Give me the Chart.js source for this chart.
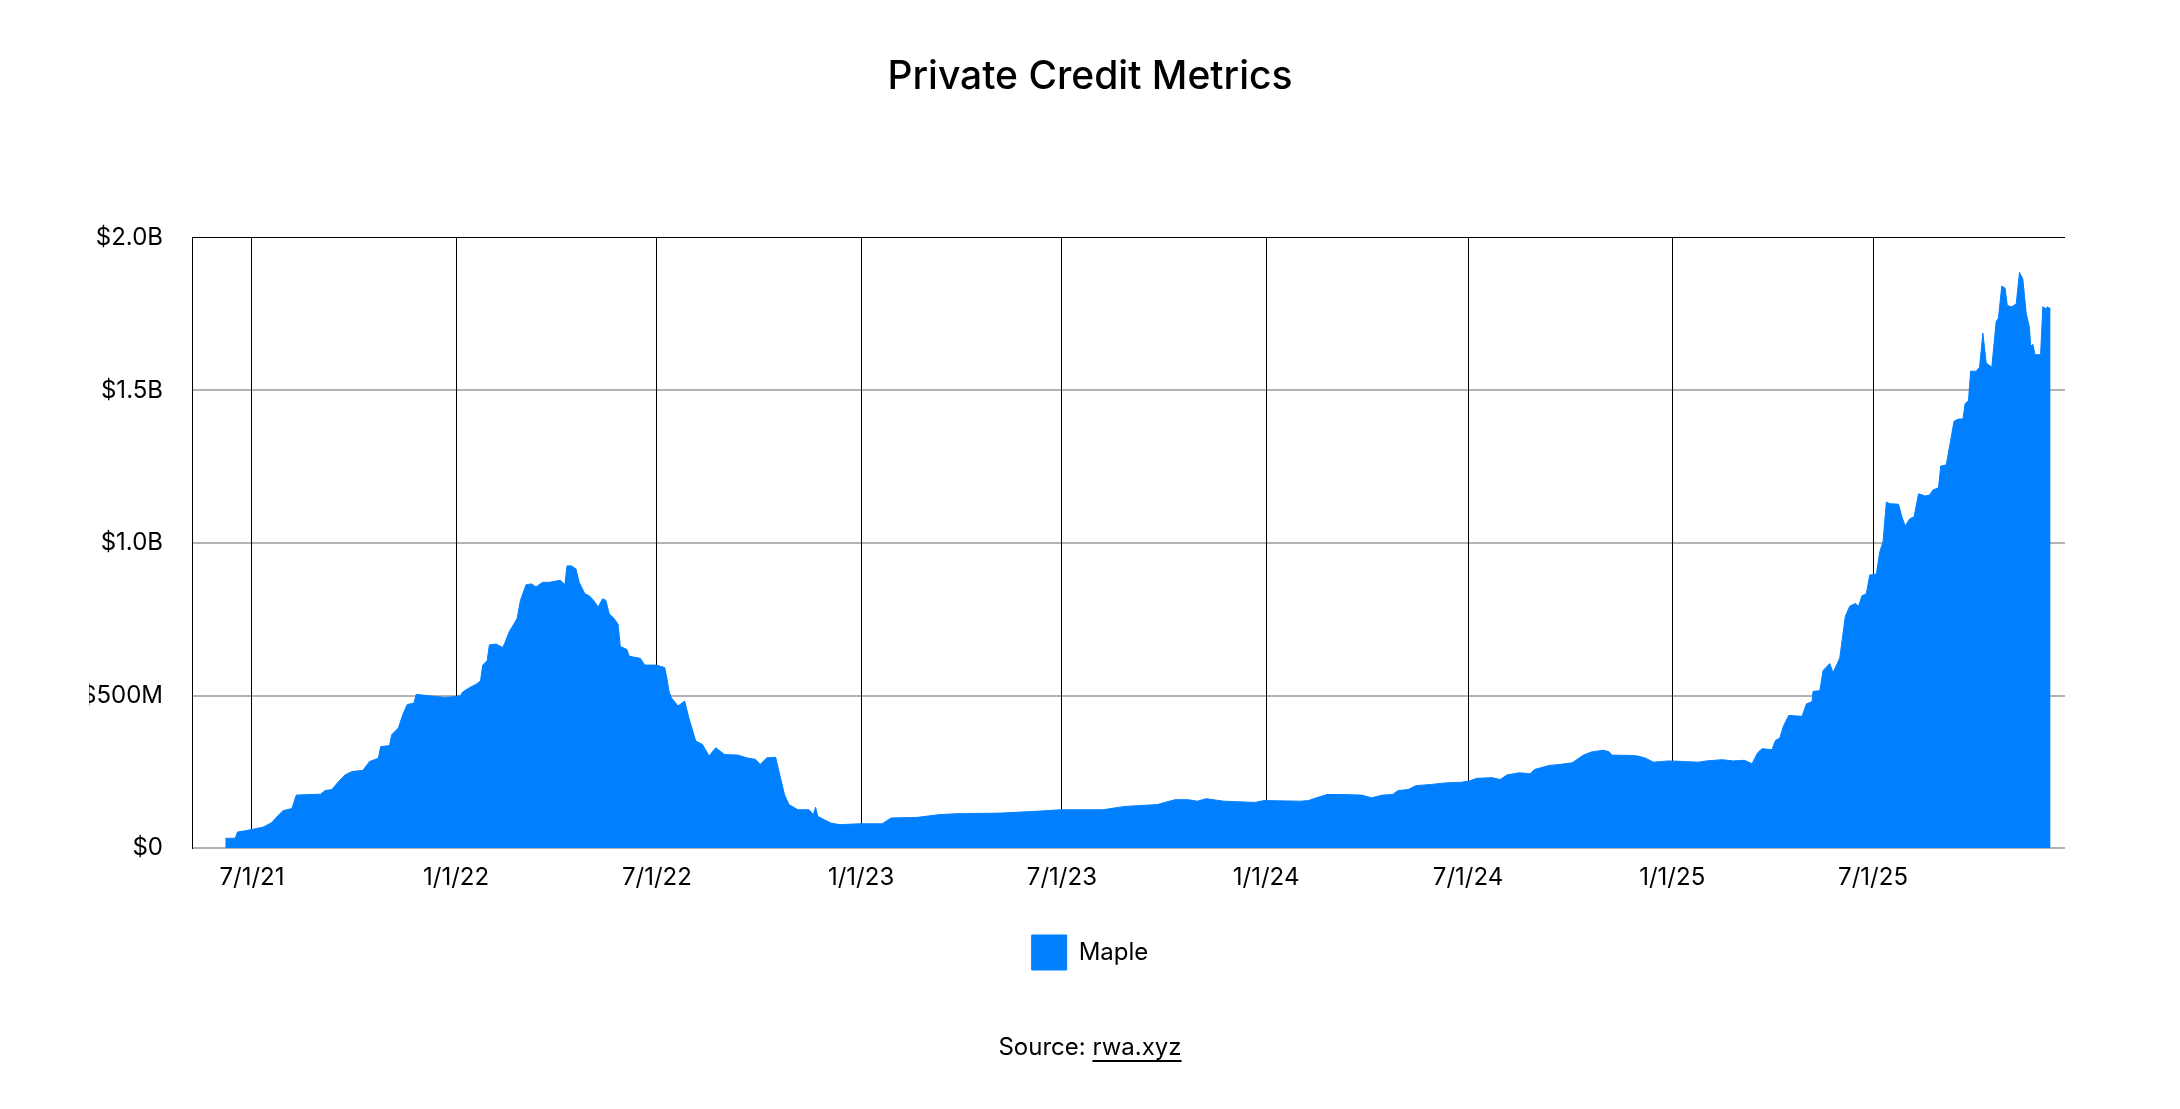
<!DOCTYPE html>
<html>
<head>
<meta charset="utf-8">
<script src="https://cdn.jsdelivr.net/npm/chart.js@4.4.1/dist/chart.umd.min.js"></script>
<style>
  body { margin: 0; background: #fff; font-family: Inter, sans-serif; }
  #chart { display: block; }
  #source { position: absolute; left: 0; top: 1032px; width: 2180px; text-align: center;
            font: 24px/29px Inter, sans-serif; color: #000; }
  #source u { text-underline-offset: 5px; text-decoration-thickness: 1.5px; }
</style>
</head>
<body>
<canvas id="chart" width="2180" height="1109"></canvas>
<div id="source">Source: <u>rwa.xyz</u></div>
<script>
  // Maple private credit outstanding, $M
  const dates = [
    "2021-06-07", "2021-06-16", "2021-06-18", "2021-06-25", "2021-07-11", "2021-07-19", "2021-07-23", "2021-07-29",
    "2021-08-06", "2021-08-10", "2021-09-01", "2021-09-05", "2021-09-11", "2021-09-17", "2021-09-23", "2021-09-29",
    "2021-10-09", "2021-10-15", "2021-10-23", "2021-10-25", "2021-11-02", "2021-11-04", "2021-11-10", "2021-11-14",
    "2021-11-18", "2021-11-24", "2021-11-26", "2021-12-06", "2021-12-22", "2022-01-01", "2022-01-05", "2022-01-07",
    "2022-01-13", "2022-01-19", "2022-01-23", "2022-01-25", "2022-01-29", "2022-01-31", "2022-02-06", "2022-02-12",
    "2022-02-14", "2022-02-18", "2022-02-22", "2022-02-25", "2022-02-28", "2022-03-05", "2022-03-10", "2022-03-14",
    "2022-03-20", "2022-03-26", "2022-04-05", "2022-04-09", "2022-04-11", "2022-04-15", "2022-04-19", "2022-04-22",
    "2022-04-27", "2022-05-01", "2022-05-05", "2022-05-09", "2022-05-13", "2022-05-16", "2022-05-19", "2022-05-23",
    "2022-05-27", "2022-05-29", "2022-06-04", "2022-06-06", "2022-06-16", "2022-06-20", "2022-06-30", "2022-07-08",
    "2022-07-10", "2022-07-12", "2022-07-14", "2022-07-20", "2022-07-26", "2022-07-30", "2022-08-05", "2022-08-11",
    "2022-08-17", "2022-08-23", "2022-08-31", "2022-09-12", "2022-09-20", "2022-09-28", "2022-10-02", "2022-10-08",
    "2022-10-16", "2022-10-20", "2022-10-24", "2022-10-28", "2022-11-05", "2022-11-15", "2022-11-19", "2022-11-21",
    "2022-11-23", "2022-11-29", "2022-12-05", "2022-12-13", "2022-12-30", "2023-01-20", "2023-01-28", "2023-02-21",
    "2023-03-12", "2023-03-28", "2023-05-07", "2023-06-08", "2023-06-30", "2023-08-07", "2023-08-27", "2023-09-25",
    "2023-10-11", "2023-10-23", "2023-10-31", "2023-11-08", "2023-11-24", "2023-12-22", "2023-12-30", "2024-02-01",
    "2024-02-08", "2024-02-17", "2024-02-25", "2024-03-07", "2024-03-27", "2024-04-05", "2024-04-15", "2024-04-24",
    "2024-04-29", "2024-05-08", "2024-05-15", "2024-05-29", "2024-06-11", "2024-06-25", "2024-07-02", "2024-07-09",
    "2024-07-23", "2024-07-30", "2024-08-05", "2024-08-16", "2024-08-26", "2024-08-30", "2024-09-12", "2024-09-23",
    "2024-10-03", "2024-10-13", "2024-10-20", "2024-10-31", "2024-11-05", "2024-11-08", "2024-11-24", "2024-12-01",
    "2024-12-08", "2024-12-15", "2024-12-29", "2025-01-11", "2025-01-25", "2025-02-01", "2025-02-15", "2025-02-25",
    "2025-03-07", "2025-03-14", "2025-03-19", "2025-03-23", "2025-04-01", "2025-04-04", "2025-04-08", "2025-04-11",
    "2025-04-16", "2025-04-28", "2025-05-02", "2025-05-07", "2025-05-08", "2025-05-14", "2025-05-17", "2025-05-23",
    "2025-05-26", "2025-06-01", "2025-06-06", "2025-06-10", "2025-06-15", "2025-06-18", "2025-06-21", "2025-06-25",
    "2025-06-28", "2025-07-04", "2025-07-07", "2025-07-10", "2025-07-13", "2025-07-16", "2025-07-24", "2025-07-27",
    "2025-07-30", "2025-08-03", "2025-08-07", "2025-08-11", "2025-08-17", "2025-08-21", "2025-08-24", "2025-08-29",
    "2025-08-31", "2025-09-05", "2025-09-08", "2025-09-12", "2025-09-16", "2025-09-20", "2025-09-22", "2025-09-25",
    "2025-09-27", "2025-10-02", "2025-10-05", "2025-10-08", "2025-10-11", "2025-10-16", "2025-10-20", "2025-10-22",
    "2025-10-25", "2025-10-28", "2025-10-30", "2025-11-03", "2025-11-07", "2025-11-10", "2025-11-13", "2025-11-16",
    "2025-11-19", "2025-11-20", "2025-11-22", "2025-11-24", "2025-11-29", "2025-12-01", "2025-12-04", "2025-12-05",
    "2025-12-08"
  ];
  const maple = [
    32, 33, 53, 57, 69, 84, 101, 123,
    130, 174, 177, 189, 192, 218, 240, 251,
    255, 284, 295, 333, 336, 372, 394, 438,
    471, 475, 504, 500, 494, 497, 500, 512,
    526, 537, 548, 600, 614, 666, 669, 658,
    673, 710, 734, 753, 812, 863, 866, 856,
    871, 871, 878, 863, 925, 925, 915, 871,
    834, 827, 812, 790, 817, 812, 768, 754,
    734, 661, 651, 629, 622, 600, 600, 592,
    556, 512, 493, 466, 482, 424, 351, 340,
    302, 329, 307, 305, 296, 291, 274, 296,
    298, 236, 175, 143, 126, 126, 110, 134,
    104, 93, 82, 77, 80, 80, 99, 101,
    110, 113, 115, 121, 126, 126, 137, 143,
    159, 159, 154, 162, 154, 150, 156, 154,
    156, 167, 176, 176, 174, 165, 174, 176,
    189, 192, 205, 209, 214, 216, 220, 229,
    231, 225, 240, 247, 244, 258, 271, 275,
    280, 305, 315, 321, 316, 305, 304, 302,
    295, 282, 286, 284, 282, 286, 290, 286,
    288, 277, 313, 326, 323, 353, 361, 398,
    435, 432, 473, 480, 514, 516, 582, 605,
    575, 623, 759, 793, 802, 793, 827, 834,
    895, 898, 970, 1004, 1134, 1129, 1127, 1086,
    1056, 1079, 1086, 1161, 1154, 1157, 1174, 1181,
    1252, 1256, 1317, 1399, 1406, 1406, 1456, 1467,
    1563, 1563, 1576, 1688, 1590, 1576, 1726, 1737,
    1842, 1835, 1778, 1774, 1783, 1887, 1865, 1753,
    1706, 1644, 1651, 1617, 1617, 1774, 1767, 1774,
    1767
  ];
  const tickDates = ["2021-07-01", "2022-01-01", "2022-07-01", "2023-01-01", "2023-07-01",
                     "2024-01-01", "2024-07-01", "2025-01-01", "2025-07-01"];
  const xMin = "2021-05-08";
  const xMax = "2025-12-21";
  const yTicks = [0, 500, 1000, 1500, 2000];

  const DAY = 86400000;
  const toDay = s => Date.parse(s) / DAY;

  function fmtDate(v) {
    const d = new Date(v * DAY);
    return (d.getUTCMonth() + 1) + "/" + d.getUTCDate() + "/" + String(d.getUTCFullYear() % 100).padStart(2, "0");
  }
  function fmtMoney(v) {
    if (v === 0) return "$0";
    if (v < 1000) return "$" + v + "M";
    return "$" + (v / 1000).toFixed(1) + "B";
  }

  Chart.defaults.font.family = "Inter";
  Chart.defaults.color = "#000";

  new Chart(document.getElementById("chart"), {
    type: "line",
    data: {
      datasets: [{
        label: "Maple",
        data: dates.map((d, i) => ({ x: toDay(d), y: maple[i] })),
        backgroundColor: "#0080ff",
        borderColor: "#0080ff",
        borderWidth: 1,
        pointRadius: 0,
        tension: 0,
        fill: "origin"
      }]
    },
    options: {
      responsive: false,
      animation: false,
      devicePixelRatio: 1,
      // equal side padding keeps title and legend centred on the page
      layout: { padding: { left: 89, right: 89, top: 0, bottom: 129 } },
      plugins: {
        title: {
          display: true,
          text: "Private Credit Metrics",
          font: { size: 39, weight: "500" },
          color: "#000",
          padding: { top: 54, bottom: 137 }
        },
        legend: {
          position: "bottom",
          labels: { boxWidth: 35, boxHeight: 35, padding: 28, font: { size: 24 }, color: "#000" }
        },
        tooltip: { enabled: false }
      },
      scales: {
        x: {
          type: "linear",
          min: toDay(xMin),
          max: toDay(xMax),
          z: 1,
          afterBuildTicks: scale => { scale.ticks = tickDates.map(d => ({ value: toDay(d) })); },
          ticks: { callback: v => fmtDate(v), font: { size: 24 }, padding: 15, maxRotation: 0, autoSkip: false },
          grid: { color: "#000", lineWidth: 1, drawTicks: false },
          border: { display: false }
        },
        y: {
          min: 0,
          max: 2000,
          z: 1,
          afterBuildTicks: scale => { scale.ticks = yTicks.map(v => ({ value: v })); },
          afterFit: scale => { scale.width = 103; },
          ticks: { callback: v => fmtMoney(v), font: { size: 24 }, padding: 29 },
          grid: {
            color: c => c.tick && c.tick.value === 2000 ? "#000" : "rgba(0,0,0,0.3)",
            lineWidth: c => c.tick && c.tick.value === 2000 ? 1 : 2,
            drawTicks: false
          },
          border: { display: true, color: "#000", width: 1 }
        },
        // empty spacer on the right so the plot ends short of the padding
        spacer: {
          type: "linear",
          position: "right",
          afterFit: scale => { scale.width = 26; },
          ticks: { display: false },
          grid: { display: false },
          border: { display: false }
        }
      }
    }
  });
</script>
</body>
</html>
